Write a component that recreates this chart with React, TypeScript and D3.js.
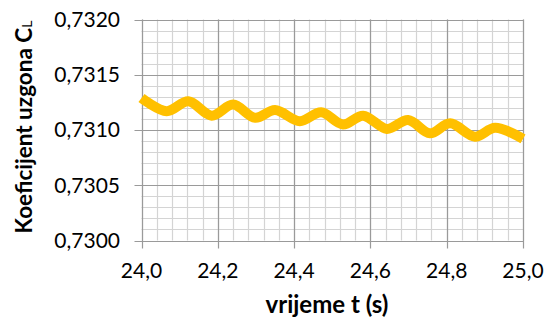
import React from "react";
import * as d3 from "d3";

const times = [24.0, 24.066, 24.123, 24.184, 24.24, 24.298, 24.35, 24.415, 24.471, 24.528, 24.581, 24.643, 24.699, 24.756, 24.809, 24.874, 24.927, 25.0];
const cl = [0.73129, 0.73117, 0.73126, 0.73113, 0.73123, 0.73111, 0.73118, 0.73108, 0.73116, 0.73105, 0.73113, 0.73101, 0.73109, 0.73097, 0.73106, 0.73094, 0.73102, 0.73092];

const xTicks = [24.0, 24.2, 24.4, 24.6, 24.8, 25.0];
const xTickLabels = ["24,0", "24,2", "24,4", "24,6", "24,8", "25,0"];
const yTicks = [0.73, 0.7305, 0.731, 0.7315, 0.732];
const yTickLabels = ["0,7300", "0,7305", "0,7310", "0,7315", "0,7320"];
const xMinorStep = 0.04;
const yMinorStep = 0.0001;

const W = 551, H = 322;
const L = 141.5, R = 523, T = 19.5, B = 240.5;
const FONT = "Lato, 'Open Sans', sans-serif";

export default function App() {
  const x = d3.scaleLinear().domain([24, 25]).range([L, R]);
  const y = d3.scaleLinear().domain([0.73, 0.732]).range([B, T]);
  const xMinor = d3.range(0, 26).map((i) => 24 + i * xMinorStep);
  const yMinor = d3.range(0, 21).map((i) => 0.73 + i * yMinorStep);
  const data = times.map((t, i) => [t, cl[i]] as [number, number]);
  const line = d3
    .line<[number, number]>()
    .x((d) => x(d[0]))
    .y((d) => y(d[1]))
    .curve(d3.curveCatmullRom.alpha(0.5));

  return (
    <svg width={W} height={H} style={{ position: "absolute", left: 0, top: 0, background: "#fff" }}>
      <rect x={0} y={0} width={W} height={H} fill="#fff" />
      {xMinor.map((v, i) => (
        <line key={"xm" + i} x1={Math.round(x(v)) + 0.5} x2={Math.round(x(v)) + 0.5} y1={T} y2={B} stroke="#d4d4d4" strokeWidth={1.2} />
      ))}
      {yMinor.map((v, i) => (
        <line key={"ym" + i} x1={L} x2={R} y1={Math.round(y(v)) + 0.5} y2={Math.round(y(v)) + 0.5} stroke="#d4d4d4" strokeWidth={1.2} />
      ))}
      {xTicks.map((v, i) => (
        <line key={"xM" + i} x1={Math.round(x(v)) + 0.5} x2={Math.round(x(v)) + 0.5} y1={T} y2={B + 8} stroke="#9a9a9a" strokeWidth={1.2} />
      ))}
      {yTicks.map((v, i) => (
        <line key={"yM" + i} x1={L - 7} x2={R} y1={Math.round(y(v)) + 0.5} y2={Math.round(y(v)) + 0.5} stroke="#9a9a9a" strokeWidth={1.2} />
      ))}
      <path d={line(data) || ""} fill="none" stroke="#FFC000" strokeWidth={10} strokeLinejoin="round" />
      {yTicks.map((v, i) => (
        <text key={"yl" + i} x={120} y={y(v)} dy="0.35em" textAnchor="end" fontFamily={FONT} fontSize={21} fill="#000">
          {yTickLabels[i]}
        </text>
      ))}
      {xTicks.map((v, i) => (
        <text key={"xl" + i} x={x(v)} y={278} textAnchor="middle" fontFamily={FONT} fontSize={21} fill="#000">
          {xTickLabels[i]}
        </text>
      ))}
      <text x={327} y={313} textAnchor="middle" fontFamily={FONT} fontWeight="bold" fontSize={24} fill="#000">
        vrijeme t (s)
      </text>
      <text transform="translate(32,127) rotate(-90)" textAnchor="middle" fontFamily={FONT} fontWeight="bold" fontSize={22.5} fill="#000">
        Koeficijent uzgona C<tspan fontSize={14} fontWeight="normal">L</tspan>
      </text>
    </svg>
  );
}
